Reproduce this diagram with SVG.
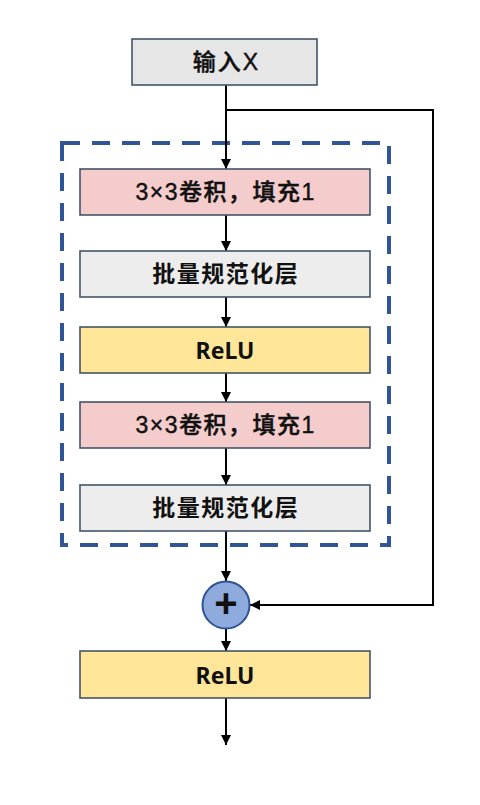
<svg xmlns="http://www.w3.org/2000/svg" width="480" height="805" viewBox="0 0 480 805">
<defs>
<marker id="ah" markerUnits="userSpaceOnUse" markerWidth="11" markerHeight="11" refX="10" refY="5" orient="auto"><path d="M0,0 L10,5 L0,10 z" fill="#000"/></marker>
<style>
.box{stroke:#44546A;stroke-width:1.6}
.in{fill:#E7E6E6}
.conv{fill:#F4CCCC}
.bn{fill:#EDEDED}
.relu{fill:#FFE699}
.t{font-family:"Liberation Sans","Noto Sans CJK SC",sans-serif;font-size:21px;fill:#111;text-anchor:middle;dominant-baseline:central}
.m{font-weight:500;font-size:23px;letter-spacing:1.5px;stroke:#111;stroke-width:0.45px}
.b{font-weight:bold}
.r{font-family:"Noto Sans","Noto Sans CJK SC",sans-serif;font-weight:bold;font-size:23px}
.bw{font-weight:bold;font-size:23px;letter-spacing:1.5px}
.c{stroke:#000;stroke-width:2;fill:none;marker-end:url(#ah)}
</style>
</defs>
<rect width="480" height="805" fill="#fff"/>
<rect id="group" x="62" y="143" width="327" height="402" fill="none" stroke="#2F5597" stroke-width="4" stroke-dasharray="18 12"/>
<g id="connectors">
<path class="c" d="M226,85 V169"/>
<path class="c" d="M226,110 H433 V605 H250" stroke-width="2.6"/>
<path class="c" d="M226,215 V251"/>
<path class="c" d="M226,297 V327"/>
<path class="c" d="M226,373 V402"/>
<path class="c" d="M226,448 V485"/>
<path class="c" d="M226,531 V581"/>
<path class="c" d="M226,629 V651"/>
<path class="c" d="M226,698 V745"/>
</g>
<g id="input"><rect class="box in" x="132" y="39" width="185" height="46"/><text class="t m" x="226.5" y="62" style="letter-spacing:2px">输入X</text></g>
<g id="conv1"><rect class="box conv" x="80" y="169" width="290" height="46"/><text class="t m" x="225.7" y="192">3×3卷积，填充1</text></g>
<g id="bn1"><rect class="box bn" x="80" y="251" width="290" height="46"/><text class="t bw" x="225.7" y="274">批量规范化层</text></g>
<g id="relu1"><rect class="box relu" x="80" y="327" width="290" height="46"/><text class="t r" x="225" y="350">ReLU</text></g>
<g id="conv2"><rect class="box conv" x="80" y="402" width="290" height="46"/><text class="t m" x="225.7" y="425">3×3卷积，填充1</text></g>
<g id="bn2"><rect class="box bn" x="80" y="485" width="290" height="46"/><text class="t bw" x="225.7" y="508">批量规范化层</text></g>
<g id="add"><circle cx="226" cy="605" r="23.5" fill="#8FAADC" stroke="#2F5597" stroke-width="2"/><text class="t b" x="226" y="603" style="font-size:40px">+</text></g>
<g id="relu2"><rect class="box relu" x="80" y="651" width="290" height="47"/><text class="t r" x="225" y="675">ReLU</text></g>
</svg>
